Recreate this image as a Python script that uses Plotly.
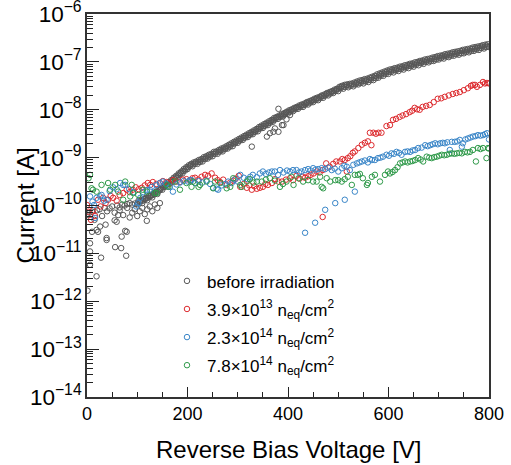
import plotly.graph_objects as go

# ---------------- data (voltage [V], log10 of current [A]) ----------------
# before irradiation: dense main band (three interleaved readings of the band)
gray_v = list(range(100, 805, 5))
gray_logi = [
    -9.97, -9.93, -9.95, -9.88, -9.89, -9.82, -9.83, -9.76, -9.76, -9.68,
    -9.67, -9.61, -9.60, -9.54, -9.51, -9.45, -9.42, -9.35, -9.33, -9.27,
    -9.24, -9.18, -9.18, -9.13, -9.13, -9.09, -9.08, -9.03, -9.02, -8.98,
    -8.97, -8.92, -8.92, -8.87, -8.87, -8.82, -8.81, -8.77, -8.76, -8.70,
    -8.69, -8.64, -8.63, -8.58, -8.57, -8.52, -8.51, -8.46, -8.45, -8.39,
    -8.38, -8.33, -8.32, -8.27, -8.25, -8.20, -8.19, -8.15, -8.14, -8.09,
    -8.08, -8.04, -8.03, -7.99, -7.98, -7.94, -7.94, -7.89, -7.89, -7.85,
    -7.84, -7.80, -7.80, -7.75, -7.75, -7.70, -7.70, -7.66, -7.65, -7.61,
    -7.61, -7.55, -7.56, -7.52, -7.53, -7.50, -7.51, -7.47, -7.47, -7.44,
    -7.45, -7.41, -7.42, -7.38, -7.38, -7.34, -7.33, -7.29, -7.29, -7.25,
    -7.25, -7.21, -7.22, -7.18, -7.19, -7.15, -7.16, -7.12, -7.13, -7.09,
    -7.10, -7.06, -7.07, -7.03, -7.04, -7.00, -7.01, -6.98, -6.98, -6.95,
    -6.95, -6.92, -6.93, -6.89, -6.90, -6.87, -6.87, -6.84, -6.85, -6.82,
    -6.82, -6.79, -6.80, -6.77, -6.77, -6.74, -6.75, -6.71, -6.72, -6.69,
    -6.69,
]
gray_v2 = [v + 2.5 for v in range(100, 800, 5)]
gray_logi2 = [
    -9.90, -9.89, -9.86, -9.84, -9.80, -9.78, -9.74, -9.71, -9.66, -9.63,
    -9.58, -9.55, -9.51, -9.47, -9.42, -9.38, -9.33, -9.29, -9.24, -9.20,
    -9.16, -9.13, -9.10, -9.08, -9.05, -9.03, -8.99, -8.97, -8.94, -8.92,
    -8.88, -8.87, -8.84, -8.81, -8.79, -8.76, -8.73, -8.70, -8.67, -8.64,
    -8.61, -8.58, -8.55, -8.52, -8.49, -8.46, -8.43, -8.40, -8.36, -8.33,
    -8.30, -8.27, -8.24, -8.21, -8.17, -8.15, -8.12, -8.09, -8.07, -8.04,
    -8.01, -7.99, -7.96, -7.94, -7.91, -7.89, -7.87, -7.84, -7.82, -7.80,
    -7.77, -7.75, -7.73, -7.70, -7.68, -7.65, -7.63, -7.61, -7.58, -7.56,
    -7.52, -7.50, -7.48, -7.47, -7.46, -7.45, -7.43, -7.41, -7.39, -7.38,
    -7.36, -7.35, -7.33, -7.31, -7.29, -7.26, -7.24, -7.22, -7.20, -7.18,
    -7.16, -7.15, -7.13, -7.12, -7.10, -7.09, -7.07, -7.06, -7.04, -7.03,
    -7.01, -7.00, -6.98, -6.97, -6.95, -6.94, -6.93, -6.91, -6.90, -6.88,
    -6.87, -6.86, -6.84, -6.83, -6.82, -6.80, -6.79, -6.78, -6.77, -6.75,
    -6.74, -6.73, -6.72, -6.70, -6.69, -6.68, -6.67, -6.65, -6.64, -6.63,
]
gray_v3 = [v + 1.25 for v in range(100, 800, 5)]
gray_logi3 = [
    -9.94, -9.91, -9.90, -9.86, -9.84, -9.80, -9.78, -9.73, -9.71, -9.66,
    -9.62, -9.58, -9.55, -9.50, -9.46, -9.41, -9.37, -9.32, -9.28, -9.23,
    -9.20, -9.15, -9.14, -9.10, -9.09, -9.06, -9.03, -9.00, -8.98, -8.95,
    -8.92, -8.89, -8.88, -8.84, -8.83, -8.79, -8.77, -8.73, -8.71, -8.67,
    -8.65, -8.61, -8.59, -8.55, -8.53, -8.49, -8.47, -8.43, -8.40, -8.36,
    -8.34, -8.30, -8.28, -8.24, -8.21, -8.17, -8.15, -8.12, -8.10, -8.06,
    -8.04, -8.01, -7.99, -7.96, -7.94, -7.91, -7.90, -7.86, -7.85, -7.82,
    -7.80, -7.77, -7.76, -7.72, -7.71, -7.67, -7.66, -7.63, -7.61, -7.58,
    -7.56, -7.52, -7.52, -7.49, -7.49, -7.47, -7.47, -7.44, -7.43, -7.41,
    -7.40, -7.38, -7.37, -7.34, -7.33, -7.30, -7.28, -7.25, -7.24, -7.21,
    -7.20, -7.18, -7.17, -7.15, -7.14, -7.12, -7.11, -7.09, -7.08, -7.06,
    -7.05, -7.03, -7.02, -7.00, -6.99, -6.97, -6.97, -6.94, -6.94, -6.91,
    -6.91, -6.89, -6.88, -6.86, -6.86, -6.83, -6.83, -6.81, -6.81, -6.78,
    -6.78, -6.76, -6.76, -6.73, -6.73, -6.71, -6.71, -6.68, -6.68, -6.66,
]
# before irradiation: low-voltage and scattered points
gray_low_v = [0, 5, 10, 15, 20, 25, 30, 35, 40, 45, 50, 55, 60, 65, 70, 75, 80, 85, 90, 95,
              1, 6, 6, 6, 10, 19, 19, 22, 26, 28, 37, 39, 39, 55, 56, 59, 62, 68, 69, 76, 78, 79,
              65, 72, 80, 85, 90, 95, 100, 105, 110, 115, 119, 120, 125, 130, 135, 140, 145,
              328, 358, 364, 371, 374, 381, 381, 388, 391, 397, 404]
gray_low_logi = [-10.20, -10.15, -10.13, -10.30, -10.10, -10.08, -10.22, -10.05, -10.12, -10.06,
                 -10.02, -10.15, -10.00, -10.04, -9.98, -10.00, -9.97, -9.95, -9.98, -9.96,
                 -11.78, -10.79, -10.96, -11.24, -10.55, -11.48, -10.51, -10.55, -10.44, -11.09,
                 -10.40, -10.72, -10.68, -10.31, -10.87, -10.34, -10.20, -10.89, -10.65, -10.53,
                 -11.05, -10.55,
                 -10.10, -10.20, -10.05, -10.25, -10.15, -10.08, -10.22, -10.12, -10.05, -10.18,
                 -10.32, -10.08, -10.02, -10.12, -9.98, -10.05, -9.95,
                 -8.77, -8.56, -8.49, -8.46, -8.39, -8.46, -7.98, -8.32, -8.32, -8.20, -8.11]

# 3.9e13 neq/cm2
red_v = [0, 3, 8, 12, 16, 22, 27, 32, 37, 42, 47, 52, 59, 65, 72, 79, 85, 91, 97, 103,
         109, 115, 121, 126, 131, 138, 145, 151, 158, 164, 171, 178, 185, 191, 198, 205, 210, 215, 222, 228,
         235, 241, 248, 255, 260, 265, 271, 278, 285, 291, 296, 302, 305, 312, 318, 323, 328, 333, 338, 344,
         350, 355, 360, 368, 374, 381, 388, 396, 404, 410, 417, 423, 429, 434, 440, 445, 451, 457, 463, 469,
         476, 483, 490, 496, 503, 508, 513, 517, 519, 524, 529, 533, 540, 547, 553, 559, 563, 566, 570, 575,
         580, 586, 596, 603, 609, 615, 622, 628, 635, 642, 647, 652, 657, 662, 668, 675, 682, 690, 698, 705,
         712, 720, 728, 735, 742, 750, 758, 764, 768, 772, 776, 782, 788, 792, 796, 800, 469]
red_logi = [-9.99, -10.13, -10.30, -10.10, -10.22, -9.88, -10.02, -9.84, -9.95, -9.88,
            -9.80, -9.84, -9.90, -9.78, -9.74, -9.67, -9.72, -9.67, -9.62, -9.66,
            -9.63, -9.58, -9.53, -9.57, -9.51, -9.55, -9.53, -9.49, -9.51, -9.54,
            -9.47, -9.50, -9.51, -9.46, -9.45, -9.48, -9.43, -9.42, -9.46, -9.40,
            -9.36, -9.38, -9.33, -9.42, -9.47, -9.51, -9.46, -9.57, -9.52, -9.48,
            -9.44, -9.38, -9.61, -9.55, -9.63, -9.58, -9.67, -9.60, -9.65, -9.63,
            -9.61, -9.55, -9.57, -9.53, -9.45, -9.50, -9.50, -9.46, -9.43, -9.47,
            -9.38, -9.44, -9.40, -9.42, -9.39, -9.36, -9.33, -9.29, -9.31, -9.26,
            -9.12, -9.19, -9.13, -9.08, -9.08, -9.03, -9.05, -9.29, -9.01, -8.97,
            -8.90, -8.87, -8.80, -8.73, -8.69, -8.66, -8.48, -8.74, -8.48, -8.50,
            -8.48, -8.48, -8.34, -8.32, -8.21, -8.19, -8.15, -8.12, -8.09, -8.05,
            -8.02, -7.96, -7.99, -8.00, -7.94, -7.92, -7.90, -7.84, -7.77, -7.76,
            -7.73, -7.70, -7.67, -7.65, -7.63, -7.59, -7.55, -7.50, -7.48, -7.48,
            -7.52, -7.48, -7.42, -7.45, -7.44, -7.45, -10.24]

# 2.3e14 neq/cm2
blue_v = [6, 11, 16, 14, 19, 26, 29, 34, 39, 45, 52, 59, 66, 72, 76, 84, 92, 102, 98, 106,
          112, 119, 125, 129, 138, 145, 151, 158, 165, 171, 178, 185, 192, 201, 205, 208, 215, 222, 230, 238,
          245, 251, 258, 261, 268, 275, 281, 288, 294, 300, 305, 312, 320, 325, 330, 338, 344, 350, 356, 362,
          368, 374, 380, 384, 391, 398, 404, 410, 417, 422, 427, 434, 440, 445, 450, 455, 460, 467, 474, 480,
          487, 493, 500, 507, 512, 517, 523, 530, 537, 542, 547, 553, 559, 563, 567, 573, 579, 584, 589, 596,
          601, 606, 611, 616, 621, 626, 633, 638, 643, 648, 653, 659, 666, 673, 678, 683, 688, 693, 698, 703,
          708, 712, 717, 722, 726, 732, 737, 742, 746, 748, 753, 758, 763, 768, 773, 778, 783, 788, 792, 796,
          800, 434, 454, 474, 494, 513, 533]
blue_logi = [-9.81, -9.92, -10.26, -9.99, -9.84, -9.81, -9.78, -9.90, -9.88, -9.70,
             -9.62, -9.66, -9.53, -9.57, -9.57, -9.66, -9.72, -9.95, -10.02, -9.84,
             -9.72, -9.68, -9.67, -9.61, -9.57, -9.53, -9.50, -9.55, -9.61, -9.71,
             -9.56, -9.52, -9.49, -9.50, -9.47, -9.47, -9.53, -9.49, -9.52, -9.48,
             -9.55, -9.63, -9.65, -9.67, -9.58, -9.55, -9.50, -9.53, -9.46, -9.50,
             -9.36, -9.42, -9.45, -9.40, -9.36, -9.41, -9.33, -9.29, -9.34, -9.31,
             -9.29, -9.29, -9.36, -9.26, -9.31, -9.27, -9.29, -9.26, -9.26, -9.31,
             -9.29, -9.26, -9.24, -9.27, -9.22, -9.25, -9.24, -9.22, -9.24, -9.21,
             -9.26, -9.23, -9.29, -9.22, -9.17, -9.19, -9.26, -9.15, -9.12, -9.10,
             -9.08, -9.06, -9.10, -9.03, -9.05, -9.05, -9.01, -9.00, -8.98, -8.94,
             -8.96, -8.91, -8.92, -8.88, -8.90, -8.94, -8.88, -8.87, -8.88, -8.85,
             -8.84, -8.80, -8.79, -8.74, -8.76, -8.74, -8.72, -8.70, -8.72, -8.70,
             -8.69, -8.70, -8.68, -8.84, -8.67, -8.67, -8.66, -8.63, -8.77, -8.70,
             -8.62, -8.60, -8.58, -8.56, -8.55, -8.53, -8.54, -8.53, -8.51, -8.49,
             -8.62, -10.57, -10.36, -10.09, -9.95, -9.88, -9.71]

# 7.8e14 neq/cm2
green_v = [3, 6, 9, 12, 19, 29, 42, 46, 56, 62, 72, 76, 86, 89, 92, 102, 111, 119, 135, 139,
           159, 162, 175, 185, 198, 208, 211, 222, 225, 238, 251, 255, 265, 278, 285, 291, 305, 308, 318, 324,
           331, 338, 348, 356, 364, 374, 384, 390, 397, 407, 411, 421, 430, 440, 450, 457, 464, 467, 470, 477,
           484, 494, 500, 507, 513, 519, 527, 533, 539, 543, 549, 557, 559, 567, 573, 583, 593, 599, 603, 608,
           613, 618, 623, 628, 633, 638, 643, 648, 653, 659, 664, 669, 676, 681, 686, 691, 696, 701, 706, 711,
           716, 721, 726, 731, 736, 741, 746, 752, 757, 762, 768, 774, 778, 783, 788, 795, 798, 800]
green_logi = [-9.43, -9.36, -9.64, -9.67, -9.71, -9.57, -9.53, -9.67, -9.57, -9.71,
              -9.88, -9.50, -9.81, -9.57, -9.74, -9.78, -9.67, -9.71, -9.74, -9.74,
              -9.57, -9.61, -9.50, -9.67, -9.53, -9.61, -9.50, -9.61, -9.57, -9.50,
              -9.64, -9.50, -9.53, -9.64, -9.61, -9.43, -9.57, -9.61, -9.50, -9.45,
              -9.52, -9.50, -9.50, -9.46, -9.43, -9.48, -9.61, -9.55, -9.50, -9.40,
              -9.57, -9.43, -9.50, -9.47, -9.50, -9.50, -9.40, -9.61, -9.64, -9.43,
              -9.50, -9.47, -9.47, -9.50, -9.45, -9.40, -9.57, -9.36, -9.36, -9.34,
              -9.43, -9.57, -9.53, -9.40, -9.36, -9.50, -9.36, -9.29, -9.33, -9.30,
              -9.26, -9.20, -9.12, -9.10, -9.08, -9.10, -9.08, -9.07, -9.05, -9.01,
              -9.04, -9.08, -8.98, -9.00, -9.01, -8.99, -8.98, -8.96, -8.94, -8.95,
              -8.94, -8.92, -8.91, -8.92, -8.91, -8.90, -8.91, -8.88, -8.89, -8.88,
              -8.84, -9.08, -8.80, -8.82, -8.80, -9.01, -8.80, -8.81]

series_names = [
    "before irradiation",
    "3.9\u00d710<sup>13</sup> n<sub>eq</sub>/cm<sup>2</sup>",
    "2.3\u00d710<sup>14</sup> n<sub>eq</sub>/cm<sup>2</sup>",
    "7.8\u00d710<sup>14</sup> n<sub>eq</sub>/cm<sup>2</sup>",
]
series_colors = ["#575757", "#dd2a2e", "#3a86c8", "#2f9a4a"]

x_title = "Reverse Bias Voltage [V]"
y_title = "Current [A]"

# ---------------- figure ----------------
series = [
    (gray_v + gray_v3 + gray_v2 + gray_low_v, gray_logi + gray_logi3 + gray_logi2 + gray_low_logi),
    (red_v, red_logi),
    (blue_v, blue_logi),
    (green_v, green_logi),
]

fig = go.Figure()
for i, ((vx, ly), name, col) in enumerate(zip(series, series_names, series_colors)):
    fig.add_trace(go.Scatter(
        x=vx, y=[10 ** v for v in ly], mode="markers", name=name, legendgroup=f"g{i}",
        marker=dict(symbol="circle-open", size=5.5, color=col, line=dict(width=1, color=col)),
    ))

FONT = "Liberation Sans, Arial, Helvetica, sans-serif"
fig.update_layout(
    width=511, height=465,
    margin=dict(l=87, r=22, t=14, b=68, autoexpand=False),
    plot_bgcolor="white", paper_bgcolor="white",
    font=dict(family=FONT, size=18, color="black"),
    showlegend=True,
    legend=dict(
        x=0.199, y=0.349, xanchor="left", yanchor="top",
        bgcolor="rgba(0,0,0,0)", font=dict(size=17, family=FONT),
        tracegroupgap=3,
    ),
    annotations=[
        dict(text=x_title, xref="paper", yref="paper", x=0.5, y=-0.138,
             xanchor="center", yanchor="middle", showarrow=False, font=dict(size=24, family=FONT)),
        dict(text=y_title, xref="paper", yref="paper", x=-0.152, y=0.5, textangle=-90,
             xanchor="center", yanchor="middle", showarrow=False, font=dict(size=24, family=FONT)),
    ],
)
fig.update_xaxes(
    range=[0, 800], dtick=200, tick0=0, ticks="inside", ticklen=10, tickwidth=1, tickcolor="#222",
    minor=dict(ticks="inside", dtick=50, ticklen=5, tickwidth=1, tickcolor="#222", showgrid=False),
    showline=True, linecolor="#333", linewidth=1.5, mirror=True, ticklabeloverflow="allow",
    automargin=False,
    showgrid=False, zeroline=False, tickfont=dict(size=18, family=FONT),
)
fig.update_yaxes(
    type="log", range=[-14.001, -5.999], dtick=1, exponentformat="power",
    ticks="inside", ticklen=12, tickwidth=1, tickcolor="#222", ticklabeloverflow="allow",
    automargin=False,
    minor=dict(ticks="inside", dtick="D1", ticklen=6, tickwidth=1, tickcolor="#222", showgrid=False),
    showline=True, linecolor="#333", linewidth=1.5, mirror=True,
    showgrid=False, zeroline=False, tickfont=dict(size=18, family=FONT),
)
fig.write_html("out.html", config={"displayModeBar": False},
               post_script="document.body.style.margin='0px';")
